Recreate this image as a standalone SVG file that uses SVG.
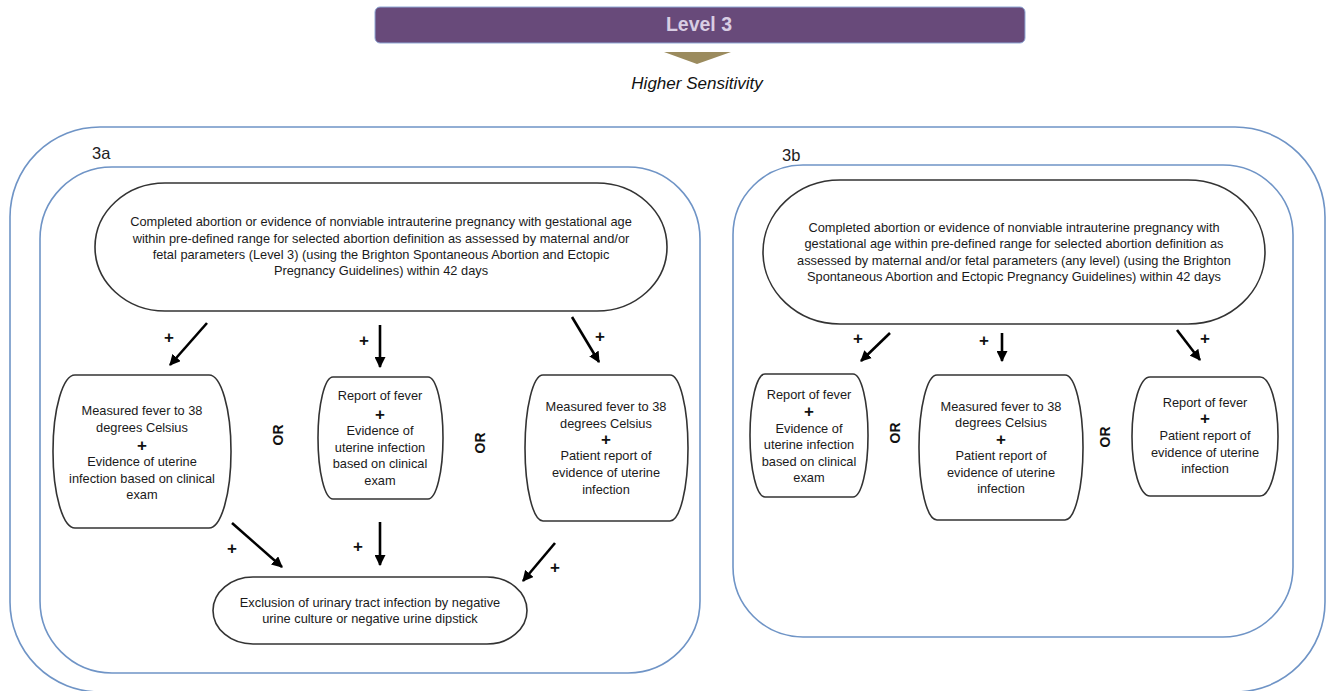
<svg xmlns="http://www.w3.org/2000/svg" width="1331" height="691" viewBox="0 0 1331 691">
<defs>
<style>
.frame{fill:none;stroke:#6f94c6;stroke-width:1.6}
.node{fill:#fff;stroke:#333;stroke-width:1.6}
.t{font-family:"Liberation Sans",Arial,sans-serif;font-size:12.8px;fill:#1a1a1a;text-anchor:middle}
.p{font-family:"Liberation Sans",Arial,sans-serif;font-size:17px;font-weight:bold;fill:#111;text-anchor:middle}
.pl{font-family:"Liberation Sans",Arial,sans-serif;font-size:17px;font-weight:bold;fill:#111;text-anchor:middle}
.or{font-family:"Liberation Sans",Arial,sans-serif;font-size:14px;font-weight:bold;fill:#111;text-anchor:middle;dominant-baseline:central}
.lab{font-family:"Liberation Sans",Arial,sans-serif;font-size:16.5px;fill:#222}
.arr{stroke:#000;stroke-width:2.6;fill:none;marker-end:url(#ah)}
</style>
<marker id="ah" viewBox="0 0 10 10" refX="9" refY="5" markerWidth="11" markerHeight="11" markerUnits="userSpaceOnUse" orient="auto">
<path d="M0,0 L10,5 L0,10 z" fill="#000"/>
</marker>
</defs>

<g id="header">
<rect x="375" y="7" width="650" height="36" rx="5" fill="#684a7a" stroke="#8fa8d6" stroke-width="1"/>
<text x="699" y="31" font-family="'Liberation Sans',Arial,sans-serif" font-size="19.5" font-weight="bold" fill="#d8cde3" text-anchor="middle">Level 3</text>
<polygon points="664,52 731,52 697,64" fill="#9b8b5e"/>
<text x="697" y="89" font-family="'Liberation Sans',Arial,sans-serif" font-size="17" font-style="italic" fill="#111" text-anchor="middle">Higher Sensitivity</text>
</g>

<g id="outer-frame">
<rect class="frame" x="10" y="127" width="1315" height="565" rx="90" ry="90"/>
</g>

<g id="panel-3a">
<rect class="frame" x="40" y="167" width="660" height="506" rx="72" ry="72"/>
<text class="lab" x="92" y="159">3a</text>
</g>

<g id="panel-3b">
<rect class="frame" x="733" y="165" width="560" height="472" rx="70" ry="70"/>
<text class="lab" x="782" y="161">3b</text>
</g>

<g id="a-top">
<rect class="node" x="95" y="183" width="572" height="128" rx="70" ry="64"/>
<text class="t" x="381" y="226">Completed abortion or evidence of nonviable intrauterine pregnancy with gestational age</text>
<text class="t" x="381" y="242.5">within pre-defined range for selected abortion definition as assessed by maternal and/or</text>
<text class="t" x="381" y="258.8">fetal parameters (Level 3) (using the Brighton Spontaneous Abortion and Ectopic</text>
<text class="t" x="381" y="275">Pregnancy Guidelines) within 42 days</text>
</g>

<g id="a-box1">
<rect class="node" x="53" y="375" width="178" height="153" rx="22" ry="76"/>
<text class="t" x="142" y="415">Measured fever to 38</text>
<text class="t" x="142" y="432">degrees Celsius</text>
<text class="p" x="142" y="451">+</text>
<text class="t" x="142" y="466">Evidence of uterine</text>
<text class="t" x="142" y="482.5">infection based on clinical</text>
<text class="t" x="142" y="499">exam</text>
</g>

<g id="a-box2">
<rect class="node" x="318" y="377" width="125" height="122" rx="15" ry="61"/>
<text class="t" x="380" y="400">Report of fever</text>
<text class="p" x="380" y="420">+</text>
<text class="t" x="380" y="435">Evidence of</text>
<text class="t" x="380" y="451.5">uterine infection</text>
<text class="t" x="380" y="468">based on clinical</text>
<text class="t" x="380" y="484.5">exam</text>
</g>

<g id="a-box3">
<rect class="node" x="525" y="375" width="163" height="146" rx="18" ry="73"/>
<text class="t" x="606" y="411">Measured fever to 38</text>
<text class="t" x="606" y="428">degrees Celsius</text>
<text class="p" x="606" y="445">+</text>
<text class="t" x="606" y="460">Patient report of</text>
<text class="t" x="606" y="477">evidence of uterine</text>
<text class="t" x="606" y="494">infection</text>
</g>

<g id="a-bottom">
<rect class="node" x="213" y="577" width="314" height="67" rx="40" ry="33.5"/>
<text class="t" x="370" y="607">Exclusion of urinary tract infection by negative</text>
<text class="t" x="370" y="623">urine culture or negative urine dipstick</text>
</g>

<g id="b-top">
<rect class="node" x="763" y="180" width="502" height="144" rx="77" ry="72"/>
<text class="t" x="1014" y="232">Completed abortion or evidence of nonviable intrauterine pregnancy with</text>
<text class="t" x="1014" y="248.3">gestational age within pre-defined range for selected abortion definition as</text>
<text class="t" x="1014" y="264.7">assessed by maternal and/or fetal parameters (any level) (using the Brighton</text>
<text class="t" x="1014" y="281">Spontaneous Abortion and Ectopic Pregnancy Guidelines) within 42 days</text>
</g>

<g id="b-box1">
<rect class="node" x="750" y="374" width="118" height="123" rx="15" ry="61"/>
<text class="t" x="809" y="399">Report of fever</text>
<text class="p" x="809" y="417">+</text>
<text class="t" x="809" y="433">Evidence of</text>
<text class="t" x="809" y="449">uterine infection</text>
<text class="t" x="809" y="465.5">based on clinical</text>
<text class="t" x="809" y="482">exam</text>
</g>

<g id="b-box2">
<rect class="node" x="919" y="375" width="164" height="145" rx="18" ry="72"/>
<text class="t" x="1001" y="411">Measured fever to 38</text>
<text class="t" x="1001" y="427">degrees Celsius</text>
<text class="p" x="1001" y="445">+</text>
<text class="t" x="1001" y="460">Patient report of</text>
<text class="t" x="1001" y="476.5">evidence of uterine</text>
<text class="t" x="1001" y="493">infection</text>
</g>

<g id="b-box3">
<rect class="node" x="1132" y="377" width="146" height="119" rx="18" ry="59"/>
<text class="t" x="1205" y="407">Report of fever</text>
<text class="p" x="1205" y="424">+</text>
<text class="t" x="1205" y="440">Patient report of</text>
<text class="t" x="1205" y="456.5">evidence of uterine</text>
<text class="t" x="1205" y="473">infection</text>
</g>

<g id="or-labels">
<text class="or" transform="translate(278,435) rotate(-90)">OR</text>
<text class="or" transform="translate(480,443) rotate(-90)">OR</text>
<text class="or" transform="translate(895,433) rotate(-90)">OR</text>
<text class="or" transform="translate(1105,437) rotate(-90)">OR</text>
</g>

<g id="connectors">
<line class="arr" x1="207" y1="323" x2="170" y2="365"/>
<line class="arr" x1="380" y1="325" x2="380" y2="367"/>
<line class="arr" x1="572" y1="317" x2="599" y2="362"/>
<line class="arr" x1="232" y1="523" x2="282" y2="567"/>
<line class="arr" x1="380" y1="522" x2="380" y2="565"/>
<line class="arr" x1="555" y1="543" x2="523" y2="581"/>
<line class="arr" x1="890" y1="333" x2="861" y2="361"/>
<line class="arr" x1="1002" y1="333" x2="1002" y2="361"/>
<line class="arr" x1="1177" y1="330" x2="1200" y2="360"/>
<text class="pl" x="169" y="343">+</text>
<text class="pl" x="364" y="346">+</text>
<text class="pl" x="600" y="342">+</text>
<text class="pl" x="232" y="554">+</text>
<text class="pl" x="358" y="552">+</text>
<text class="pl" x="555" y="573">+</text>
<text class="pl" x="858" y="344">+</text>
<text class="pl" x="984" y="346">+</text>
<text class="pl" x="1205" y="344">+</text>
</g>
</svg>
